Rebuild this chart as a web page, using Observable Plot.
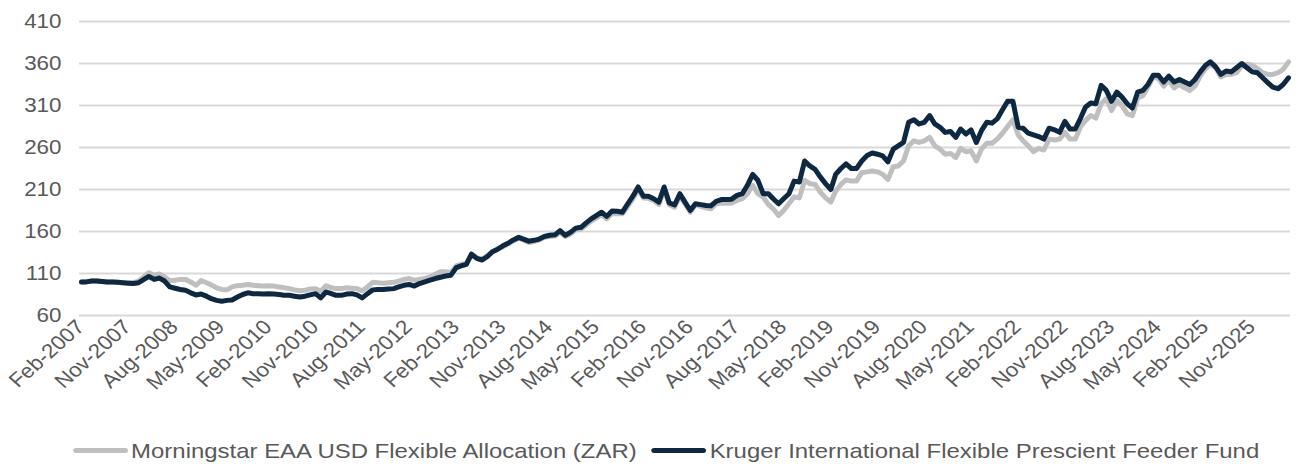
<!DOCTYPE html>
<html><head><meta charset="utf-8">
<script src="https://cdn.jsdelivr.net/npm/d3@7"></script>
<script src="https://cdn.jsdelivr.net/npm/@observablehq/plot@0.6"></script>
<style>
body{margin:0;background:#fff;font-family:"Liberation Sans",Arial,sans-serif;overflow:hidden}
#chart svg{display:block}
#legend{display:flex;justify-content:center;align-items:center;height:39px;margin-top:6px;font-size:21px;color:#595959;padding-left:30px;transform:scaleX(1.14);transform-origin:649px 50%}
.item{display:flex;align-items:center;margin:0 6.5px;white-space:nowrap}
.sw{width:48px;height:5px;border-radius:3px;margin-right:3px}
</style></head>
<body><div id="chart"></div><div id="legend"></div>
<script>
const startMonth = "2007-02-01";
const tickLabels = ["Feb-2007","Nov-2007","Aug-2008","May-2009","Feb-2010","Nov-2010","Aug-2011","May-2012","Feb-2013","Nov-2013","Aug-2014","May-2015","Feb-2016","Nov-2016","Aug-2017","May-2018","Feb-2019","Nov-2019","Aug-2020","May-2021","Feb-2022","Nov-2022","Aug-2023","May-2024","Feb-2025","Nov-2025"];
const yTicks = [60,110,160,210,260,310,360,410];
const seriesNames = ["Morningstar EAA USD Flexible Allocation (ZAR)","Kruger International Flexible Prescient Feeder Fund"];
const seriesColors = ["#BFBFBF","#0E2841"];

const morningstar = [
100,100,101,101,100.5,100,100,99.5,99,99,99,101,106,111,108,109.5,106,101.5,102,103,
103,100,96,101.5,99,96.5,93,91,90.5,94,95.5,96,97,96,95.5,95,95.5,95,94,93,
92,90.5,89.5,90,91.5,92,89,95.5,93,92,92,93,92.5,92,89.5,94,99.5,99,98.5,99,
99.5,101,103,104,102,103,104,106,109,112,112,111,119,121,122,133,129,127,131,136,
139,142,145,149,152,150,147,148,150,153,154,154.5,159,154,157,162,163,167.5,172.5,176,
180,175,181.5,181,181,190,199,210,200,199.5,197,192,210,192,189,202,193,183,192,190,
188,187,193,194,193.5,194,197,199,205,215,205,201,192,187,179,185,193,201,200,221,
217,216,207,200,195,208,216,221.5,220,220,230,231,232,231,228,222,237,238,244,262,
268,266,268,272,262,258,252,253,248,259,255,256,244,258,265,265,270,277,285,293,
275,268,262,255,259,257,270,269,270,278,270,270,285,292,298,295,312,318,304,316,
310,300,298,319,322,332,344,342,333,340,331,335,331,328,333,345,354,359,355,344,
347,347,349,357,359,358,354,349,347,347,349,353,362];

const kruger = [
100,100,101,101,100.5,100,100,99.5,99,98.5,98,99,103,106.5,103,104.5,101,94,92.5,91,
90,87,84.5,85.5,83,80,78,77,78,78.5,82,85,87,86,86,85.5,86,85.5,85,84,
84,83,82,83,84.5,86,81,88,86,84,84,85.5,86,84.5,81,86,90.5,91,91,91.5,
92,94,96,97,95,98,100,102,104,105.5,107,108,117,119,121,133,128,126,130,136,
139,143,146,150,153,151,148.5,149.5,151,154,155.5,156,161,155.5,159,164,165,170,175,179,
183,178,184.5,184,183,193,202,213,202,202,199,195,213,194,191.5,205,195,185,193,192,
191,190.5,196,198,198,198.5,203,205,215,228,221,205,205,199,193,199,205,220,219,244,
238,234,225,217,210,228,235,240.5,235,235,244,250.5,253.5,252,250,243,258,262,266,290,
293,288,290,298,288,284,278,279,272,282,276,281,266,280,290,289,294,305,315,315,
284,283,277,275,273,270,283,281,278,291,282,282,295,308,313,312,334,328,315,326,
320,312,307,326,328,335,346,346,338,345,338,341,338,335,341,350,358,362,356,347,
351,350,355,360,355,350,349,343,337,332,330,335,343];

const start = new Date(startMonth);
const dates = kruger.map((_, i) => d3.utcMonth.offset(start, i));
const rows = [
  ...morningstar.map((v, i) => ({date: dates[i], value: v, series: seriesNames[0]})),
  ...kruger.map((v, i) => ({date: dates[i], value: v, series: seriesNames[1]}))
];
const parseMonth = d3.utcParse("%b-%Y");
const tickDates = tickLabels.map(parseMonth);

const chart = Plot.plot({
  width: 1298, height: 425,
  marginLeft: 79, marginRight: 8, marginTop: 21, marginBottom: 110,
  style: {fontFamily: "'Liberation Sans', Arial, sans-serif", color: "#595959", background: "#fff"},
  x: {type: "utc", domain: [dates[0], dates[dates.length - 1]], insetLeft: 2, insetRight: 2},
  y: {domain: [60, 410]},
  color: {domain: seriesNames, range: seriesColors},
  marks: [
    Plot.gridY(yTicks, {stroke: "#D9D9D9", strokeOpacity: 1, strokeWidth: 1.8}),
    Plot.axisY(yTicks, {tickSize: 0, tickPadding: 18, label: null, fontSize: 20, fill: "#595959"}),
    Plot.axisX(tickDates, {tickSize: 0, tickPadding: 8, tickRotate: -45, tickFormat: d3.utcFormat("%b-%Y"), label: null, fontSize: 20, fill: "#595959"}),
    Plot.lineY(rows, {x: "date", y: "value", z: "series", stroke: "series", strokeWidth: 5, strokeLinejoin: "round", strokeLinecap: "round"})
  ]
});
document.getElementById("chart").appendChild(chart);

// The reference's text is a little wider than Arial: stretch each tick label horizontally
// about its right edge by wrapping it in a scaled group.
const stretch = 1.12;
chart.querySelectorAll('g[aria-label*="tick label"] text').forEach((t) => {
  const parent = t.parentNode;
  const r = t.getBoundingClientRect();
  const m = parent.getScreenCTM().inverse();
  const pt = chart.createSVGPoint();
  pt.x = r.right; pt.y = r.top;
  const p = pt.matrixTransform(m);
  const g = document.createElementNS("http://www.w3.org/2000/svg", "g");
  g.setAttribute("transform", `translate(${p.x},${p.y}) scale(${stretch},1) translate(${-p.x},${-p.y})`);
  parent.insertBefore(g, t);
  g.appendChild(t);
});

const legend = document.getElementById("legend");
seriesNames.forEach((name, i) => {
  const item = document.createElement("div");
  item.className = "item";
  const sw = document.createElement("span");
  sw.className = "sw";
  sw.style.background = seriesColors[i];
  const t = document.createElement("span");
  t.textContent = name;
  item.appendChild(sw); item.appendChild(t);
  legend.appendChild(item);
});
</script>
</body></html>
